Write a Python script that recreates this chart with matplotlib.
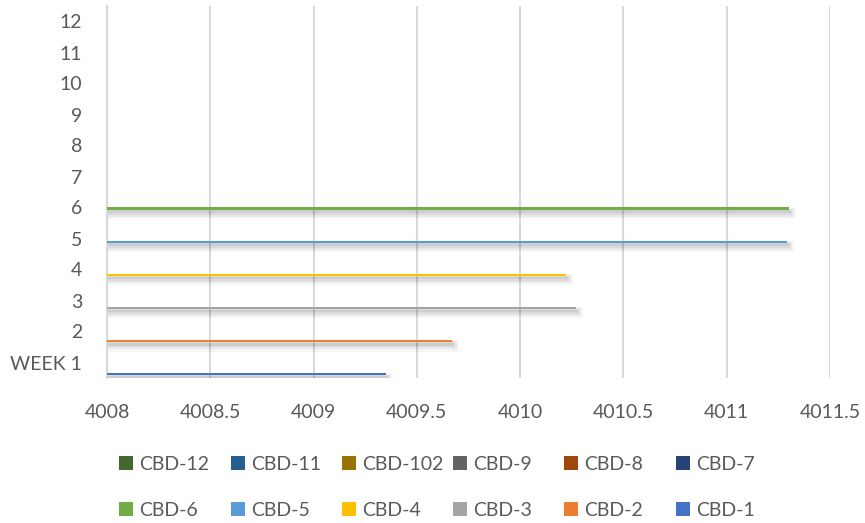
import matplotlib
matplotlib.use("Agg")
import matplotlib.pyplot as plt
import numpy as np
from matplotlib.patches import Patch

# ---- data ----
weeks = ["WEEK 1", "2", "3", "4", "5", "6", "7", "8", "9", "10", "11", "12"]
series_names = ["CBD-1", "CBD-2", "CBD-3", "CBD-4", "CBD-5", "CBD-6",
                "CBD-7", "CBD-8", "CBD-9", "CBD-102", "CBD-11", "CBD-12"]
# each series has a value only in its own week
cbd_values = [4009.35, 4009.67, 4010.27, 4010.22, 4011.29, 4011.30]
series_colors = ["#4472C4", "#ED7D31", "#A5A5A5", "#FFC000", "#5B9BD5", "#70AD47",
                 "#264478", "#9E480E", "#636363", "#997300", "#255E91", "#43682B"]
x_ticks = [4008, 4008.5, 4009, 4009.5, 4010, 4010.5, 4011, 4011.5]

FONT = "Lato"
TXT = "#595959"
plt.rcParams["font.family"] = [FONT, "DejaVu Sans"]

fig = plt.figure(figsize=(8.65, 5.23), dpi=100)
ax = fig.add_axes([107/865, 1-378/523, (830-107)/865, (378-6)/523])

n_series = len(series_names)
step = 0.0687
ypos = np.arange(len(weeks))
XMIN = x_ticks[0]

for i, name in enumerate(series_names):
    vals = np.full(len(weeks), np.nan)
    if i < len(cbd_values):
        vals[i] = cbd_values[i]
    off = (i - (n_series - 1) / 2) * step
    y = ypos + off
    # soft shadow (below / slightly right)
    for dy, h, ext, a in [(-0.16, 0.36, 0.035, 0.035), (-0.14, 0.26, 0.025, 0.05),
                          (-0.12, 0.17, 0.015, 0.06), (-0.10, 0.09, 0.01, 0.06)]:
        ax.barh(y + dy, vals - XMIN + ext, left=XMIN, height=h, color="black",
                alpha=a, linewidth=0, zorder=2)
    ax.barh(y, vals - XMIN, left=XMIN, height=step, color=series_colors[i],
            linewidth=0, zorder=3, label=name)

ax.set_xlim(x_ticks[0], x_ticks[-1])
ax.set_ylim(-0.5, len(weeks) - 0.5)
ax.set_xticks(x_ticks)
ax.set_xticklabels([f"{v:g}" for v in x_ticks])
ax.set_yticks(ypos)
ax.set_yticklabels(weeks)
ax.tick_params(axis="both", length=0, labelsize=14, colors=TXT)
ax.tick_params(axis="x", pad=19)
ax.tick_params(axis="y", pad=18)
ax.grid(axis="x", color="#D9D9D9", linewidth=1.5, zorder=0)
ax.set_axisbelow(True)
for s in ["top", "right", "bottom"]:
    ax.spines[s].set_visible(False)
ax.spines["left"].set_color("#D9D9D9")
ax.spines["left"].set_linewidth(1.5)

# legend: two rows, six equal-width columns
top_row = ["CBD-12", "CBD-11", "CBD-102", "CBD-9", "CBD-8", "CBD-7"]
bot_row = ["CBD-6", "CBD-5", "CBD-4", "CBD-3", "CBD-2", "CBD-1"]
col_x = [119, 231, 342, 453, 564, 676]
for c in range(6):
    hs = []
    for nm in (top_row[c], bot_row[c]):
        hs.append(Patch(facecolor=series_colors[series_names.index(nm)], label=nm))
    fig.legend(handles=hs, loc="upper left", bbox_to_anchor=(col_x[c]/865, 1-456/523),
               frameon=False, fontsize=14, labelcolor=TXT, handlelength=0.72,
               handleheight=0.72, handletextpad=0.3, borderpad=0, borderaxespad=0,
               labelspacing=1.5)

fig.savefig("out.png", dpi=100)
